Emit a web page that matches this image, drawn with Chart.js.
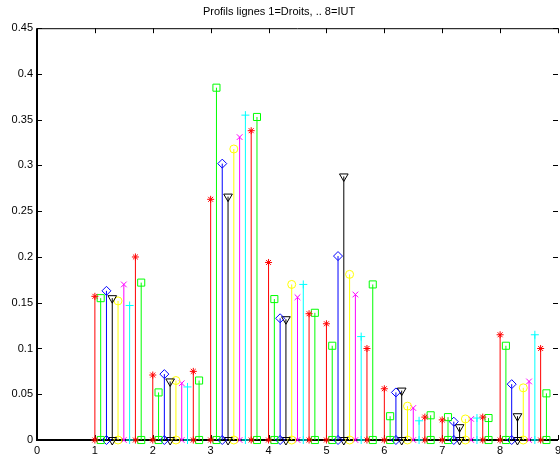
<!DOCTYPE html>
<html>
<head>
<meta charset="utf-8">
<title>Profils lignes</title>
<script src="https://cdn.jsdelivr.net/npm/chart.js@4/dist/chart.umd.min.js"></script>
<style>
  html, body { margin: 0; padding: 0; background: #fff; }
  #wrap { width: 560px; height: 459px; }
</style>
</head>
<body>
<div id="wrap"><canvas id="profilChart"></canvas></div>
<script>
// profils 1..8, 9 modalites par profil (decalees de 0.1)
var profils = [1, 2, 3, 4, 5, 6, 7, 8];
var xTicks = [0, 1, 2, 3, 4, 5, 6, 7, 8, 9];
var yTicks = [0, 0.05, 0.1, 0.15, 0.2, 0.25, 0.3, 0.35, 0.4, 0.45];

var v1 = [0.157, 0.071, 0.263, 0.194, 0.127, 0.056, 0.022, 0.115];
var v2 = [0.155, 0.052, 0.385, 0.154, 0.103, 0.026, 0.025, 0.103];
var v3 = [0.163, 0.072, 0.302, 0.133, 0.201, 0.052, 0.020, 0.061];
var v4 = [0.155, 0.064, 0.266, 0.132, 0.288, 0.054, 0.014, 0.026];
var v5 = [0.152, 0.065, 0.318, 0.170, 0.181, 0.037, 0.023, 0.057];
var v6 = [0.170, 0.062, 0.331, 0.156, 0.159, 0.035, 0.023, 0.064];
var v7 = [0.147, 0.058, 0.355, 0.170, 0.113, 0.021, 0.024, 0.115];
var v8 = [0.200, 0.075, 0.338, 0.138, 0.100, 0.025, 0.025, 0.100];
var v9 = [0.172, 0.065, 0.353, 0.139, 0.170, 0.027, 0.024, 0.051];

var colonnes = [v1, v2, v3, v4, v5, v6, v7, v8, v9];

// couleurs / marqueurs facon matlab : r* gs bd kv yo mx c+ r* gs
var styles = [
    { color: '#ff0000', marker: 'star',     radius: 3.5, rot: 0 },
    { color: '#00ff00', marker: 'rect',     radius: 5,   rot: 0 },
    { color: '#0000ff', marker: 'rectRot',  radius: 4.5, rot: 0 },
    { color: '#000000', marker: 'triangle', radius: 5,   rot: 180 },
    { color: '#ffff00', marker: 'circle',   radius: 4,   rot: 0 },
    { color: '#ff00ff', marker: 'crossRot', radius: 4,   rot: 0 },
    { color: '#00ffff', marker: 'cross',    radius: 4,   rot: 0 },
    { color: '#ff0000', marker: 'star',     radius: 3.5, rot: 0 },
    { color: '#00ff00', marker: 'rect',     radius: 5,   rot: 0 }
];

// une tige = segment (x,0)-(x,v), les tiges separees par un point vide
function tiges(valeurs, j) {
    var pts = [];
    for (var i = 0; i < profils.length; i++) {
        var x = profils[i] + j / 10;
        pts.push({ x: x, y: 0 });
        pts.push({ x: x, y: valeurs[i] });
        pts.push({ x: x, y: null });
    }
    return pts;
}

var datasets = colonnes.map(function (vals, j) {
    var s = styles[j];
    return {
        data: tiges(vals, j),
        borderColor: s.color,
        borderWidth: 1,
        pointStyle: s.marker,
        pointRadius: s.radius,
        pointRotation: s.rot,
        pointBorderColor: s.color,
        pointBackgroundColor: 'rgba(0,0,0,0)',
        pointBorderWidth: 1,
        tension: 0,
        spanGaps: false,
        clip: false
    };
});

// cadre + graduations vers l'interieur
var cadre = {
    id: 'cadre',
    beforeDatasetsDraw: function (chart) {
        var ctx = chart.ctx, a = chart.chartArea;
        var sx = chart.scales.x, sy = chart.scales.y;
        var tl = 5;
        ctx.save();
        ctx.strokeStyle = '#000';
        ctx.lineWidth = 1;
        ctx.beginPath();
        ctx.moveTo(a.left, a.top + 0.5);
        ctx.lineTo(a.right, a.top + 0.5);
        xTicks.forEach(function (t) {
            var px = Math.round(sx.getPixelForValue(t)) + 0.5;
            ctx.moveTo(px, a.top);
            ctx.lineTo(px, a.top + tl);
            ctx.moveTo(px, a.bottom);
            ctx.lineTo(px, a.bottom - tl);
        });
        yTicks.forEach(function (t) {
            var py = Math.round(sy.getPixelForValue(t)) + 0.5;
            ctx.moveTo(a.left, py);
            ctx.lineTo(a.left + tl, py);
            ctx.moveTo(a.right, py);
            ctx.lineTo(a.right - tl, py);
        });
        ctx.stroke();
        ctx.lineWidth = 2;
        ctx.beginPath();
        ctx.moveTo(a.left, a.top);
        ctx.lineTo(a.left, a.bottom);
        ctx.lineTo(a.right, a.bottom);
        ctx.stroke();
        ctx.restore();
    }
};

var police = { family: "'Liberation Sans', Arial, sans-serif", size: 11 };

var config = {
    type: 'line',
    data: { datasets: datasets },
    options: {
        responsive: true,
        maintainAspectRatio: false,
        animation: false,
        events: [],
        layout: { autoPadding: false, padding: { left: 0, right: 2, top: 0, bottom: 0 } },
        scales: {
            x: {
                type: 'linear',
                min: 0,
                max: 9,
                grid: { display: false, drawTicks: false },
                border: { display: false },
                ticks: {
                    stepSize: 1,
                    padding: 4,
                    maxRotation: 0,
                    autoSkip: false,
                    color: '#000',
                    font: police
                },
                afterFit: function (scale) {
                    scale.height = 19;
                    scale.paddingLeft = 0;
                    scale.paddingRight = 0;
                }
            },
            y: {
                min: 0,
                max: 0.45,
                grid: { display: false, drawTicks: false },
                border: { display: false },
                ticks: {
                    stepSize: 0.05,
                    padding: 4,
                    color: '#000',
                    font: police,
                    callback: function (v) { return String(Number(v.toFixed(2))); }
                },
                afterFit: function (scale) {
                    scale.width = 37;
                    scale.paddingTop = 0;
                    scale.paddingBottom = 0;
                }
            }
        },
        plugins: {
            legend: { display: false },
            tooltip: { enabled: false },
            title: {
                display: true,
                text: 'Profils lignes 1=Droits, .. 8=IUT',
                color: '#000',
                font: { family: police.family, size: 11, weight: 'normal' },
                padding: { top: 5, bottom: 10 }
            }
        }
    },
    plugins: [cadre]
};

var ctx = document.getElementById('profilChart').getContext('2d');
var chart = new Chart(ctx, config);
</script>
</body>
</html>
